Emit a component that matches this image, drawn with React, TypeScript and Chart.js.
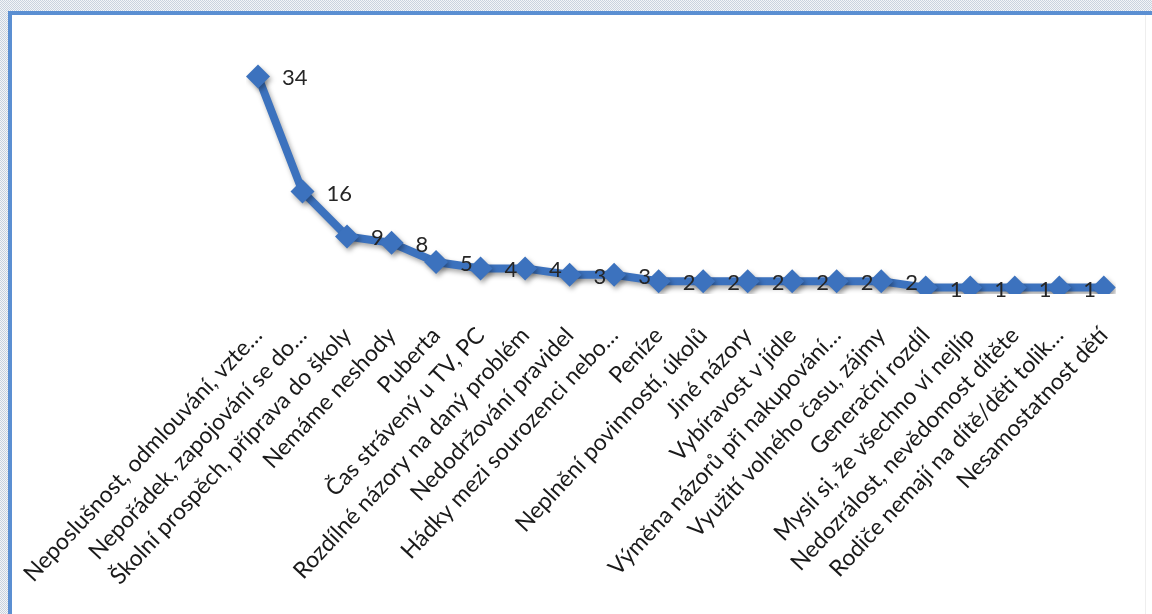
import React, { useEffect, useRef } from "react";
import { Chart, registerables } from "chart.js";

Chart.register(...registerables);

const categories: string[] = [
  "Neposlušnost, odmlouvání, vzte…",
  "Nepořádek, zapojování se do…",
  "Školní prospěch, příprava do školy",
  "Nemáme neshody",
  "Puberta",
  "Čas strávený u TV, PC",
  "Rozdílné názory na daný problém",
  "Nedodržování pravidel",
  "Hádky mezi sourozenci nebo…",
  "Peníze",
  "Neplnění povinností, úkolů",
  "Jiné názory",
  "Vybíravost v jídle",
  "Výměna názorů při nakupování…",
  "Využití volného času, zájmy",
  "Generační rozdíl",
  "Myslí si, že všechno ví nejlíp",
  "Nedozrálost, nevědomost dítěte",
  "Rodiče nemají na dítě/děti tolik…",
  "Nesamostatnost dětí",
];

const counts: number[] = [34, 16, 9, 8, 5, 4, 4, 3, 3, 2, 2, 2, 2, 2, 2, 1, 1, 1, 1, 1];

const yMin = 0;
const yMax = 40;

const BLUE = "#3C72BE";
const FONT = "Lato, 'Open Sans', sans-serif";

const framePlugin = {
  id: "frame",
  beforeDraw(chart: any) {
    const { ctx, width, height } = chart;
    ctx.save();
    ctx.fillStyle = "#ffffff";
    ctx.fillRect(0, 0, width, height);
    const pc = document.createElement("canvas");
    pc.width = 2;
    pc.height = 2;
    const p = pc.getContext("2d")!;
    p.fillStyle = "#f3f5f8";
    p.fillRect(0, 0, 2, 2);
    p.fillStyle = "#c9d3df";
    p.fillRect(0, 0, 1, 1);
    p.fillRect(1, 1, 1, 1);
    const pat = ctx.createPattern(pc, "repeat");
    ctx.fillStyle = pat;
    ctx.fillRect(0, 0, width, 11);
    ctx.fillRect(0, 0, 8, height);
    ctx.fillStyle = "#5b8fd2";
    ctx.fillRect(8, 11, width - 8, 4);
    ctx.fillRect(8, 11, 4, height - 11);
    ctx.fillStyle = "#eeeeee";
    ctx.fillRect(1145, 15, 1, height - 15);
    ctx.restore();
  },
};

const shadowPlugin = {
  id: "shadow",
  beforeDatasetsDraw(chart: any) {
    const ctx = chart.ctx;
    ctx.save();
    ctx.shadowColor = "rgba(0,0,0,0.35)";
    ctx.shadowBlur = 5;
    ctx.shadowOffsetX = 2;
    ctx.shadowOffsetY = 3;
  },
  afterDatasetsDraw(chart: any) {
    chart.ctx.restore();
  },
};

const labelPlugin = {
  id: "valueLabels",
  afterDatasetsDraw(chart: any) {
    const { ctx, chartArea } = chart;
    const meta = chart.getDatasetMeta(0);
    const data = chart.data.datasets[0].data as number[];
    ctx.save();
    ctx.beginPath();
    ctx.rect(chartArea.left - 30, chartArea.top - 30, chartArea.right - chartArea.left + 30, chartArea.bottom - chartArea.top + 60);
    ctx.clip();
    ctx.fillStyle = "#262626";
    ctx.font = `22px ${FONT}`;
    ctx.textAlign = "left";
    ctx.textBaseline = "middle";
    meta.data.forEach((pt: any, i: number) => {
      ctx.fillText(String(data[i]), pt.x + 24, pt.y + 2);
    });
    ctx.restore();
  },
};

export default function App() {
  const ref = useRef<HTMLCanvasElement>(null);

  useEffect(() => {
    if (!ref.current) return;
    const chart = new Chart(ref.current, {
      type: "line",
      data: {
        labels: categories,
        datasets: [
          {
            data: counts,
            borderColor: BLUE,
            backgroundColor: BLUE,
            borderWidth: 8,
            tension: 0,
            pointStyle: "rectRot",
            pointRadius: 12,
            pointBackgroundColor: BLUE,
            pointBorderColor: BLUE,
            pointBorderWidth: 0,
          },
        ],
      },
      options: {
        responsive: true,
        maintainAspectRatio: false,
        animation: false,
        layout: { padding: { left: 258, right: 45, top: 38, bottom: 0 } },
        plugins: {
          legend: { display: false },
          tooltip: { enabled: false },
        },
        scales: {
          y: {
            display: false,
            min: yMin,
            max: yMax,
          },
          x: {
            grid: { display: false, drawTicks: false },
            border: { display: false },
            afterFit: (s: any) => {
              s.height = 320;
            },
            ticks: {
              autoSkip: false,
              minRotation: 47,
              maxRotation: 47,
              padding: 28,
              color: "#1a1a1a",
              font: { family: FONT, size: 23 },
            },
          },
        },
      },
      plugins: [framePlugin, shadowPlugin, labelPlugin],
    });
    return () => chart.destroy();
  }, []);

  return (
    <div style={{ position: "fixed", left: 0, top: 0, width: 1152, height: 614, background: "#fff" }}>
      <canvas ref={ref} />
    </div>
  );
}
